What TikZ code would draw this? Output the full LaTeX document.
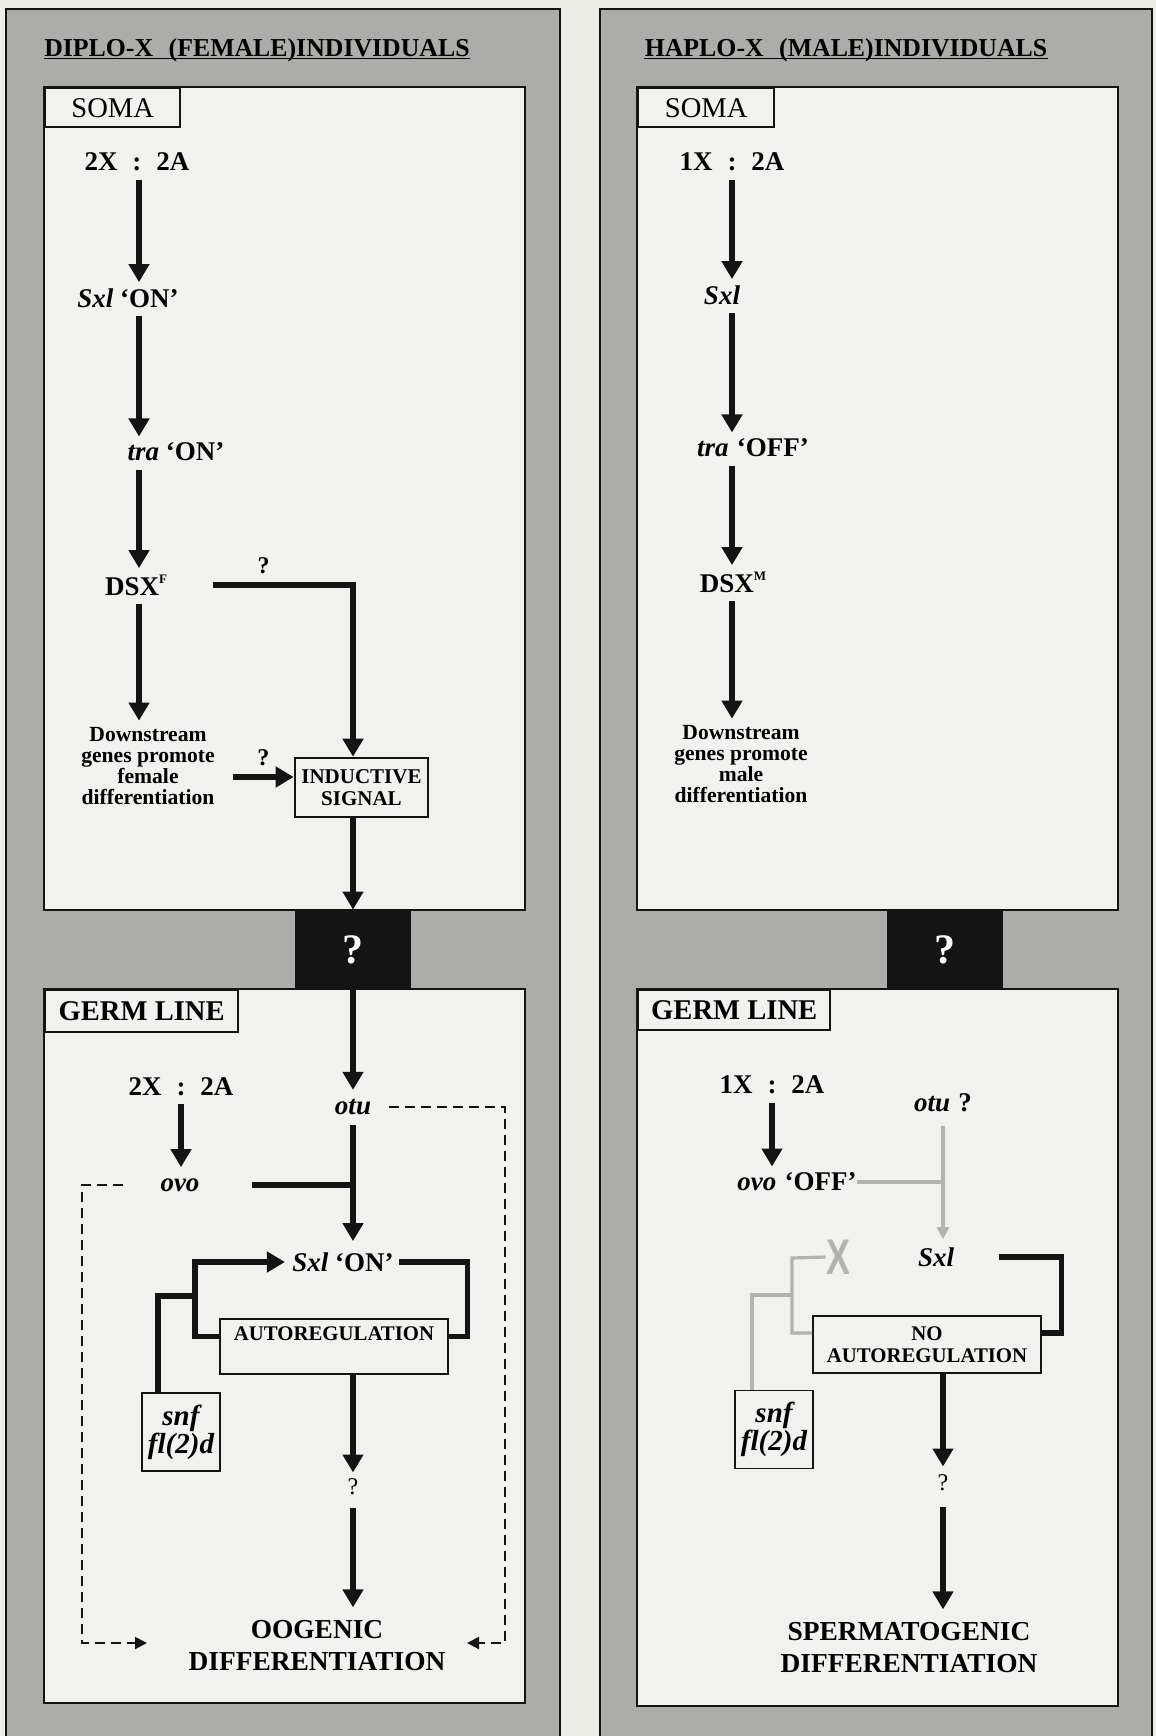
\documentclass[tikz,border=0pt]{standalone}
\usepackage{fontspec}
\setmainfont{Liberation Serif}
\newfontfamily\xsans{Liberation Sans}
\usetikzlibrary{arrows.meta, positioning}
\definecolor{cpaper}{RGB}{238,238,233}
\definecolor{cpanel}{RGB}{172,172,168}
\definecolor{cfield}{RGB}{241,241,237}
\definecolor{cfaint}{RGB}{178,178,176}
\definecolor{cink}{RGB}{20,20,20}
\newcommand{\xratio}[2]{#1\hspace{0.55em}:\hspace{0.55em}#2}
\newcommand{\gn}[1]{{\itshape #1}}
\newcommand{\sups}[1]{\raisebox{0.45em}{\fontsize{6.5}{6.5}\selectfont #1}}

\begin{document}
\begin{tikzpicture}[
  x=0.5pt, y=-0.5pt,
  panel/.style   = {draw=cink, line width=1pt, fill=cpanel},
  field/.style   = {draw=cink, line width=1.2pt, fill=cfield},
  tab/.style     = {draw=cink, line width=1.2pt, fill=cfield, anchor=north west,
                    inner sep=0pt, font=\fontsize{14.3}{16}\selectfont},
  ttl/.style     = {inner sep=0pt, anchor=base, font=\fontsize{12.9}{14}\selectfont\bfseries},
  lbl/.style     = {inner sep=0pt, font=\fontsize{13.5}{15}\selectfont\bfseries},
  note/.style    = {inner sep=0pt, align=center, font=\fontsize{10.8}{10.6}\selectfont\bfseries},
  sigbox/.style  = {draw=cink, line width=1.3pt, fill=cfield, align=center, inner sep=0pt,
                    minimum width=66.5pt, minimum height=29.5pt,
                    font=\fontsize{10.5}{11}\selectfont\bfseries},
  regbox/.style  = {draw=cink, line width=0.8pt, fill=cfield, inner ysep=0pt,
                    minimum width=114pt, font=\fontsize{10.4}{11}\selectfont\bfseries},
  genebox/.style = {draw=cink, line width=0.8pt, fill=cfield, align=center, inner sep=0pt,
                    minimum width=39pt, minimum height=39pt,
                    font=\fontsize{14.5}{14}\selectfont\bfseries\itshape},
  qbox/.style    = {fill=cink, text=white, inner sep=0pt, minimum width=58pt,
                    minimum height=39.5pt, font=\fontsize{21}{21}\selectfont\bfseries},
  qmark/.style   = {inner sep=0pt, font=\fontsize{12}{12}\selectfont\bfseries},
  qsmall/.style  = {inner sep=0pt, font=\fontsize{12}{12}\selectfont},
  fate/.style    = {inner sep=0pt, align=center, font=\fontsize{13.7}{16}\selectfont\bfseries},
  arr/.style     = {draw=cink, line width=2.8pt, -{Triangle[width=10pt,length=9pt]}},
  gap/.style     = {shorten <=4pt, shorten >=3pt},
  link/.style    = {draw=cink, line width=2.6pt},
  dashlink/.style= {draw=cink, line width=1pt, dash pattern=on 5pt off 3pt,
                    -{Triangle[width=6pt,length=6pt]}},
  faint/.style   = {draw=cfaint, line width=1.6pt},
  ftip/.style    = {-{Triangle[width=6pt,length=6pt]}},
]
% Page and the two panels
\useasboundingbox (0,0) rectangle (1156,1736);
\fill[cpaper] (0,0) rectangle (1156,1736);
\clip (0,0) rectangle (1156,1736);
\draw[panel] (6,9) rectangle (560,1760);
\draw[panel] (600,9) rectangle (1152,1760);
\draw[field] (44,87) rectangle (525,910);
\draw[field] (44,989) rectangle (525,1703);
\draw[field] (637,87) rectangle (1118,910);
\draw[field] (637,989) rectangle (1118,1706);

% Titles
\node[ttl] (ttlL) at (257,56) {DIPLO-X\hspace{0.6em}(FEMALE)INDIVIDUALS};
\node[ttl] (ttlR) at (846,56) {HAPLO-X\hspace{0.6em}(MALE)INDIVIDUALS};
\draw[line width=0.8pt] ([yshift=-1.3pt]ttlL.base west) -- ([yshift=-1.3pt]ttlL.base east);
\draw[line width=0.8pt] ([yshift=-1.3pt]ttlR.base west) -- ([yshift=-1.3pt]ttlR.base east);

% Tabs and soma/germ line junctions
\node[tab, minimum width=67.5pt, minimum height=19.5pt] (somaL) at (44,87) {SOMA};
\node[tab, minimum width=68pt, minimum height=19.5pt]   (somaR) at (637,87) {SOMA};
\node[tab, minimum width=96.5pt, minimum height=21pt,
      font=\fontsize{14.3}{16}\selectfont\bfseries]     (germL) at (44,989) {GERM LINE};
\node[tab, minimum width=96pt, minimum height=20pt,
      font=\fontsize{14.3}{16}\selectfont\bfseries]     (germR) at (637,989) {GERM LINE};
\node[qbox] (qL) at (353,949.5) {?};
\node[qbox] (qR) at (945,949.5) {?};

% Left soma
\coordinate (colL) at (139,0);
\node[lbl]    (ratL) at (137,162) {\xratio{2X}{2A}};
\node[lbl]    (sxlL) at (128,298) {\gn{Sxl} `ON'};
\node[lbl]    (traL) at (176,452) {\gn{tra} `ON'};
\node[lbl]    (dsxL) at (136,585) {DSX\sups{F}};
\node[note]   (dnL)  at (148,766) {Downstream\\genes promote\\female\\differentiation};
\node[sigbox] (sigL) at (361.5,787.5) {INDUCTIVE\\SIGNAL};
\draw[arr, gap] (ratL.south -| colL) -- (sxlL.north -| colL);
\draw[arr, gap] (sxlL.south -| colL) -- (traL.north -| colL);
\draw[arr, gap] (traL.south -| colL) -- (dsxL.north -| colL);
\draw[arr, gap] (dsxL.south -| colL) -- (dnL.north -| colL);
\draw[arr] ([xshift=23pt]dsxL.east) -| (sigL.north -| qL)
  node[qmark, pos=0.18, above=4pt] {?};
\coordinate (inL) at ([xshift=9pt,yshift=-5.5pt]dnL.east);
\draw[arr] (inL) -- (inL -| sigL.west) node[qmark, midway, above=4pt] {?};
\draw[arr] (sigL.south -| qL) -- (qL.north);

% Left germ line
\node[lbl]     (rat2L) at (181,1087) {\xratio{2X}{2A}};
\node[lbl]     (ovoL)  at (180,1185) {\gn{ovo}};
\node[lbl]     (otuL)  at (353,1107) {\gn{otu}};
\node[lbl]     (sxl2L) at (343,1262) {\gn{Sxl} `ON'};
\node[regbox, anchor=north, text height=10.9pt, text depth=16.6pt]
               (autoL) at (334,1318) {AUTOREGULATION};
\node[genebox] (snfL)  at (181,1432) {snf\\fl(2)d};
\node[qsmall]  (qm2L)  at (353,1487) {?};
\node[fate]    (fateL) at (317,1646) {OOGENIC\\DIFFERENTIATION};
\draw[arr, shorten >=4.5pt] (qL.south) -- (otuL.north);
\draw[arr, shorten <=3.5pt, shorten >=5.5pt] (rat2L.south) -- (rat2L.south |- ovoL.north);
\draw[arr, shorten <=5pt, shorten >=5.5pt] (otuL.south) -- (otuL.south |- sxl2L.north);
\draw[link] ([xshift=26pt]ovoL.east) -- (ovoL.east -| otuL.south);
\coordinate (loopL) at (195,1262);
\coordinate (joinL) at (195,1296);
\draw[arr, shorten >=3.5pt] ([yshift=5pt]autoL.west) -| (loopL) -- (loopL -| sxl2L.west);
\draw[link] ([xshift=-11.5pt]snfL.north) |- (joinL);
\draw[link] ([xshift=2.5pt]sxl2L.east) -| ([xshift=9.5pt,yshift=5pt]autoL.east)
  -- ([yshift=5pt]autoL.east);
\draw[arr, shorten >=3pt] (autoL.south -| qm2L) -- (qm2L.north);
\draw[arr, shorten <=6pt, shorten >=6.5pt] (qm2L.south) -- (qm2L.south |- fateL.north);
% dashed bypass routes
\coordinate (dR) at (505,1643);
\coordinate (dRend) at (467,1643);
\coordinate (dL) at (82,1643);
\coordinate (dLend) at (147,1643);
\draw[dashlink] ([xshift=9pt]otuL.east) -| (dR) -- (dRend);
\draw[dashlink] ([xshift=-18.5pt]ovoL.west) -| (dL) -- (dLend);

% Right soma
\coordinate (colR) at (732,0);
\node[lbl]  (ratR) at (732,162) {\xratio{1X}{2A}};
\node[lbl]  (sxlR) at (722,295) {\gn{Sxl}};
\node[lbl]  (traR) at (753,448) {\gn{tra}\hspace{0.3em}`OFF'};
\node[lbl]  (dsxR) at (733,582) {DSX\sups{M}};
\node[note] (dnR)  at (741,764) {Downstream\\genes promote\\male\\differentiation};
\draw[arr, gap] (ratR.south -| colR) -- (sxlR.north -| colR);
\draw[arr, gap] (sxlR.south -| colR) -- (traR.north -| colR);
\draw[arr, gap] (traR.south -| colR) -- (dsxR.north -| colR);
\draw[arr, gap] (dsxR.south -| colR) -- (dnR.north -| colR);

% Right germ line
\node[lbl]     (rat2R) at (772,1085) {\xratio{1X}{2A}};
\node[lbl]     (ovoR)  at (797,1182) {\gn{ovo}\hspace{0.3em}`OFF'};
\node[lbl]     (otuR)  at (943,1103) {\gn{otu}\hspace{0.3em}?};
\node[lbl]     (sxl2R) at (936,1257) {\gn{Sxl}};
\node[inner sep=0pt, text=cfaint, font=\fontsize{25}{25}\xsans\bfseries]
               (xR)    at (838,1257) {\scalebox{0.72}[1]{X}};
\node[regbox, align=center, minimum height=28.5pt, inner sep=0pt]
               (autoR) at (927,1344.5) {NO\\AUTOREGULATION};
\node[genebox] (snfR)  at (774,1429.5) {snf\\fl(2)d};
\node[qsmall]  (qm2R)  at (943,1483) {?};
\node[fate]    (fateR) at (909,1648) {SPERMATOGENIC\\DIFFERENTIATION};
\draw[arr, gap] (rat2R.south) -- (rat2R.south |- ovoR.north);
\draw[faint] (ovoR.east) -- (ovoR.east -| otuR.south);
\draw[faint, ftip, shorten <=6.5pt, shorten >=4pt] (otuR.south) -- (otuR.south |- sxl2R.north);
\coordinate (gR) at (792,1258);
\coordinate (gjR) at (792,1295);
\draw[faint] ([yshift=5.75pt]autoR.west) -| (gR) -- (xR.west);
\draw[faint] ([xshift=-11pt]snfR.north) |- (gjR);
\draw[link] ([xshift=22.5pt]sxl2R.east) -| ([xshift=10pt,yshift=5.75pt]autoR.east)
  -- ([yshift=5.75pt]autoR.east);
\draw[arr, shorten >=4pt] (autoR.south -| qm2R) -- (qm2R.north);
\draw[arr, shorten <=7.5pt, shorten >=6.5pt] (qm2R.south) -- (qm2R.south |- fateR.north);
\end{tikzpicture}
\end{document}
